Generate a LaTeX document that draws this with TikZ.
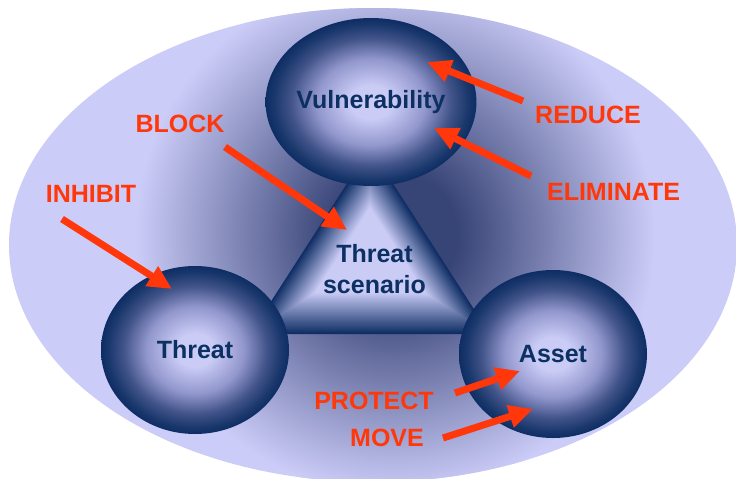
\documentclass[tikz,border=0pt]{standalone}
\usepackage{fontspec}
\setmainfont{Liberation Sans}
\usetikzlibrary{shapes.geometric,arrows.meta,calc}

\definecolor{bgLight}{RGB}{204,204,248}
\definecolor{bgDark}{RGB}{55,68,118}
\definecolor{ballLight}{RGB}{202,204,246}
\definecolor{ballMid}{RGB}{145,150,204}
\definecolor{ballDeep}{RGB}{66,84,138}
\definecolor{ballRim}{RGB}{26,56,108}
\definecolor{ballDark}{RGB}{14,45,100}
\definecolor{inkNavy}{RGB}{12,48,98}
\definecolor{actRed}{RGB}{255,55,10}

% light centre fading to a dark rim
\pgfdeclareradialshading{ball}{\pgfpoint{0bp}{0bp}}{color(0bp)=(ballLight); color(5bp)=(ballLight); color(13bp)=(ballMid); color(19bp)=(ballDeep); color(23bp)=(ballRim); color(25bp)=(ballDark); color(50bp)=(ballDark)}
% dark glow behind the triangle
\pgfdeclareradialshading{glow}{\pgfpoint{0bp}{0bp}}{color(0bp)=(bgDark); color(6bp)=(bgDark); color(25bp)=(bgLight); color(50bp)=(bgLight)}

\begin{document}
\begin{tikzpicture}[x=1pt,y=-1pt,
  ballnode/.style={ellipse, minimum width=188pt, minimum height=168pt, inner sep=0pt,
    shading=ball, font=\fontsize{25}{30}\selectfont\bfseries, text=inkNavy},
  act/.style={font=\fontsize{25}{30}\selectfont\bfseries, text=actRed, anchor=base, inner sep=0pt},
  push/.style={draw=actRed, line width=7pt, -{Triangle[length=24pt,width=22pt]}}]

\useasboundingbox (0,0) rectangle (736,479);
\fill[white] (0,0) rectangle (736,479);

% background oval
\begin{scope}
  \clip (373,245) ellipse [x radius=364, y radius=237];
  \fill[bgLight] (0,0) rectangle (736,479);
  \shade[shading=glow] (395,235) circle [radius=260];
\end{scope}

% bevelled triangle: nested triangles from dark rim to light core
\coordinate (ta) at (370,148);
\coordinate (tb) at (250,334);
\coordinate (tc) at (490,334);
\coordinate (tp) at (370,258);
\foreach \i [evaluate=\i as \s using 1-0.0135*\i, evaluate=\i as \p using 2.5*\i] in {0,...,40}
  \fill[ballLight!\p!ballDark] ($(tp)!\s!(ta)$) -- ($(tp)!\s!(tb)$) -- ($(tp)!\s!(tc)$) -- cycle;
\node[font=\fontsize{25}{31}\selectfont\bfseries, text=inkNavy, align=center] (scen) at (374.5,269.5) {Threat\\scenario};

% the three spheres
\node[ballnode] (vul) at (371,102) {Vulnerability};
\node[ballnode] (thr) at (195,350) {Threat};
\node[ballnode] (ast) at (553,354) {Asset};

% actions
\node[act] (block) at (180,132) {BLOCK};
\node[act] (inhibit) at (91,202) {INHIBIT};
\node[act] (reduce) at (588,123) {REDUCE};
\node[act] (elim) at (613.5,200) {ELIMINATE};
\node[act] (protect) at (374,409) {PROTECT};
\node[act] (move) at (387,446) {MOVE};

\coordinate (blockS) at (225,147);  \coordinate (blockE) at (347,230);
\coordinate (inhS) at (62,219);     \coordinate (inhE) at (172,289);
\coordinate (redS) at (523,101);    \coordinate (redE) at (427,62);
\coordinate (elS) at (531,176);     \coordinate (elE) at (434,128);
\coordinate (proS) at (455,393);    \coordinate (proE) at (520,371);
\coordinate (movS) at (443,438);    \coordinate (movE) at (533,409);

\draw[push] (blockS) -- (blockE);
\draw[push] (inhS) -- (inhE);
\draw[push] (redS) -- (redE);
\draw[push] (elS) -- (elE);
\draw[push] (proS) -- (proE);
\draw[push] (movS) -- (movE);
\end{tikzpicture}
\end{document}
